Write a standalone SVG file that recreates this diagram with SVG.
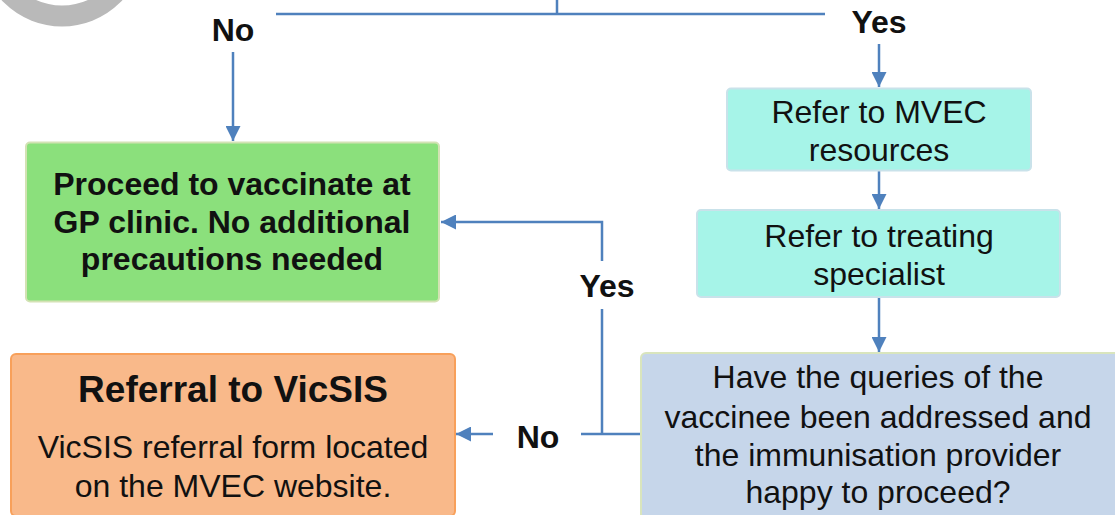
<svg xmlns="http://www.w3.org/2000/svg" width="1115" height="515" viewBox="0 0 1115 515">
<defs>
<marker id="ah" viewBox="0 0 10 10" refX="10" refY="5" markerWidth="6" markerHeight="6" markerUnits="strokeWidth" orient="auto">
<path d="M0,0 L10,5 L0,10 z" fill="#4f81bd"/>
</marker>
<style>
.c{fill:none;stroke:#4f81bd;stroke-width:2.5}
.t{font-family:"Liberation Sans",Arial,sans-serif;font-size:32px;fill:#111;text-anchor:middle}
.b{font-weight:bold}
.lbl{font-family:"Liberation Sans",Arial,sans-serif;font-size:32px;font-weight:bold;fill:#111;text-anchor:middle}
</style>
</defs>
<rect width="1115" height="515" fill="#ffffff"/>
<circle cx="62" cy="-56" r="72" fill="none" stroke="#b9b9b9" stroke-width="21"/>
<g id="connectors">
<path class="c" d="M276,14 H825 M557,0 V14"/>
<path class="c" d="M233,52 V141" marker-end="url(#ah)"/>
<path class="c" d="M879,44 V87" marker-end="url(#ah)"/>
<path class="c" d="M879,171 V209" marker-end="url(#ah)"/>
<path class="c" d="M879,297 V352" marker-end="url(#ah)"/>
<path class="c" d="M641,434 H581 M602,434 V309 M602,261 V222 H441" marker-end="url(#ah)"/>
<path class="c" d="M493,434 H456" marker-end="url(#ah)"/>
<text class="lbl" x="233" y="41">No</text>
<text class="lbl" x="879" y="33">Yes</text>
<text class="lbl" x="607" y="297">Yes</text>
<text class="lbl" x="538" y="448">No</text>
</g>
<g id="proceed">
<rect x="26" y="142.5" width="413" height="159" rx="4" fill="#8be07c" stroke="#d3e2b4" stroke-width="2"/>
<text class="t b" x="232" y="195">Proceed to vaccinate at</text>
<text class="t b" x="232" y="233">GP clinic. No additional</text>
<text class="t b" x="232" y="270">precautions needed</text>
</g>
<g id="mvec">
<rect x="727" y="88.5" width="304" height="82" rx="4" fill="#a6f4e8" stroke="#c9e2ea" stroke-width="2"/>
<text class="t" x="879" y="123">Refer to MVEC</text>
<text class="t" x="879" y="161">resources</text>
</g>
<g id="specialist">
<rect x="697" y="210" width="363" height="87" rx="4" fill="#a6f4e8" stroke="#c9e2ea" stroke-width="2"/>
<text class="t" x="879" y="247">Refer to treating</text>
<text class="t" x="879" y="285">specialist</text>
</g>
<g id="question">
<rect x="641" y="353" width="480" height="170" rx="5" fill="#c6d6ea" stroke="#d9e5bd" stroke-width="2"/>
<text class="t" x="878" y="388">Have the queries of the</text>
<text class="t" x="878" y="428">vaccinee been addressed and</text>
<text class="t" x="878" y="466">the immunisation provider</text>
<text class="t" x="878" y="503">happy to proceed?</text>
</g>
<g id="vicsis">
<rect x="11" y="354" width="444" height="162" rx="5" fill="#f9b98a" stroke="#f8a05a" stroke-width="2"/>
<text class="t b" x="233" y="402" style="font-size:37px">Referral to VicSIS</text>
<text class="t" x="233" y="458">VicSIS referral form located</text>
<text class="t" x="233" y="497">on the MVEC website.</text>
</g>
</svg>
